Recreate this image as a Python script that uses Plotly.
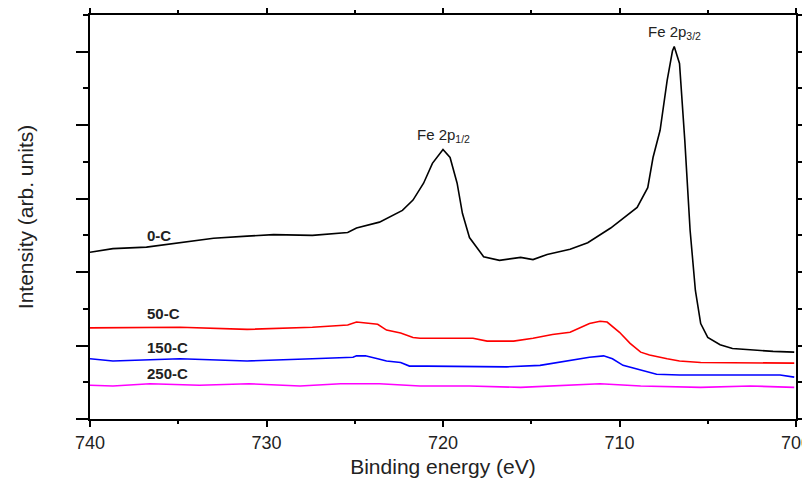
import plotly.graph_objects as go

# Binding energy (eV) and intensity (arb. units)
x_0c = [740.0, 738.7, 736.8, 734.9, 733.0, 731.1, 729.6, 727.4, 725.4, 724.9, 723.6, 722.3,
        721.7, 721.1, 720.6, 720.0, 719.6, 719.2, 718.9, 718.5, 717.7, 716.8, 715.6, 714.9,
        714.1, 712.8, 711.8, 710.5, 709.0, 708.4, 708.1, 707.7, 707.3, 707.0, 706.9, 706.6,
        706.3, 706.0, 705.7, 705.4, 705.0, 704.3, 703.6, 702.4, 701.3, 700.1]
y_0c = [2.27, 2.32, 2.34, 2.40, 2.46, 2.49, 2.51, 2.50, 2.54, 2.60, 2.68, 2.84,
        2.98, 3.21, 3.48, 3.67, 3.56, 3.21, 2.80, 2.47, 2.21, 2.16, 2.20, 2.17,
        2.24, 2.31, 2.40, 2.60, 2.88, 3.15, 3.56, 3.93, 4.61, 5.01, 5.07, 4.84,
        3.79, 2.57, 1.75, 1.30, 1.11, 1.01, 0.96, 0.94, 0.92, 0.91]

x_50c = [740.0, 738.7, 734.9, 731.1, 727.4, 725.4, 724.9, 723.7, 723.2, 722.4, 721.7, 721.3,
         718.3, 717.5, 716.0, 714.9, 713.8, 712.8, 711.7, 711.1, 710.7, 710.0, 709.4, 708.8,
         708.3, 707.3, 706.6, 705.4, 703.6, 701.6, 700.1]
y_50c = [1.24, 1.24, 1.25, 1.22, 1.25, 1.28, 1.32, 1.29, 1.21, 1.17, 1.11, 1.10,
         1.10, 1.06, 1.06, 1.10, 1.15, 1.18, 1.30, 1.33, 1.32, 1.18, 1.03, 0.91,
         0.87, 0.82, 0.79, 0.77, 0.77, 0.77, 0.76]

x_150c = [740.0, 738.7, 734.9, 731.1, 727.4, 726.0, 725.1, 724.9, 724.4, 723.7, 723.2, 722.4,
          721.9, 720.9, 718.6, 717.7, 716.4, 714.5, 713.5, 712.8, 711.7, 710.9, 710.4, 709.8,
          708.8, 707.9, 706.6, 705.4, 700.9, 700.1]
y_150c = [0.82, 0.79, 0.82, 0.79, 0.82, 0.83, 0.84, 0.86, 0.86, 0.82, 0.79, 0.77,
          0.72, 0.72, 0.72, 0.71, 0.71, 0.73, 0.77, 0.80, 0.84, 0.86, 0.82, 0.73,
          0.67, 0.61, 0.60, 0.60, 0.60, 0.57]

x_250c = [740.0, 738.7, 736.6, 733.8, 731.0, 728.1, 725.8, 723.6, 721.3, 718.5, 715.6, 713.4,
          711.1, 708.8, 705.4, 702.6, 700.1]
y_250c = [0.46, 0.45, 0.48, 0.46, 0.48, 0.45, 0.48, 0.48, 0.45, 0.45, 0.43, 0.45,
          0.48, 0.45, 0.43, 0.45, 0.43]

series_names = ["0-C", "50-C", "150-C", "250-C"]
series_colors = ["#000000", "#ff0000", "#0000ff", "#ff00ff"]
label_y = [2.50, 1.44, 0.98, 0.625]
label_x = 736.9

peak_labels = ["Fe 2p<sub>1/2</sub>", "Fe 2p<sub>3/2</sub>"]
peak_x = [720.0, 706.9]
peak_y = [3.86, 5.26]

xs = [x_0c, x_50c, x_150c, x_250c]
ys = [y_0c, y_50c, y_150c, y_250c]

FONT = "Liberation Sans, Arial"

fig = go.Figure()
for name, xv, yv, c in zip(series_names, xs, ys, series_colors):
    fig.add_trace(go.Scatter(x=xv, y=yv, mode="lines", name=name,
                             line=dict(color=c, width=1.6), showlegend=False))

for name, ly in zip(series_names, label_y):
    fig.add_annotation(x=label_x, y=ly, text="<b>" + name + "</b>", showarrow=False,
                       xanchor="left", yanchor="middle",
                       font=dict(family=FONT, size=15, color="#222222"))

for t, px, py in zip(peak_labels, peak_x, peak_y):
    fig.add_annotation(x=px, y=py, text=t, showarrow=False, xanchor="center",
                       yanchor="middle",
                       font=dict(family=FONT, size=15, color="#222222"))

axis_common = dict(showline=True, linecolor="black", linewidth=2, mirror="ticks",
                   ticks="outside", tickcolor="black", tickwidth=1.5,
                   showgrid=False, zeroline=False, automargin=False)

fig.update_xaxes(range=[740, 700], dtick=10, tick0=700, ticklen=6,
                 ticklabeloverflow="allow",
                 minor=dict(dtick=5, ticklen=3, tickcolor="black", tickwidth=1.5, ticks="outside"),
                 title=dict(text="Binding energy (eV)", standoff=8,
                            font=dict(family=FONT, size=21, color="#222222")),
                 tickfont=dict(family=FONT, size=18, color="#222222"),
                 **axis_common)
fig.update_yaxes(range=[0, 5.5], dtick=1, tick0=0, ticklen=12, showticklabels=False,
                 minor=dict(dtick=0.5, ticklen=5, tickcolor="black", tickwidth=1.5, ticks="outside"),
                 title=dict(text="Intensity (arb. units)", standoff=37,
                            font=dict(family=FONT, size=21, color="#222222")),
                 **axis_common)

fig.update_layout(width=802, height=476, margin=dict(l=82, r=14, t=7, b=65),
                  plot_bgcolor="white", paper_bgcolor="white")

fig.write_html("out.html")
